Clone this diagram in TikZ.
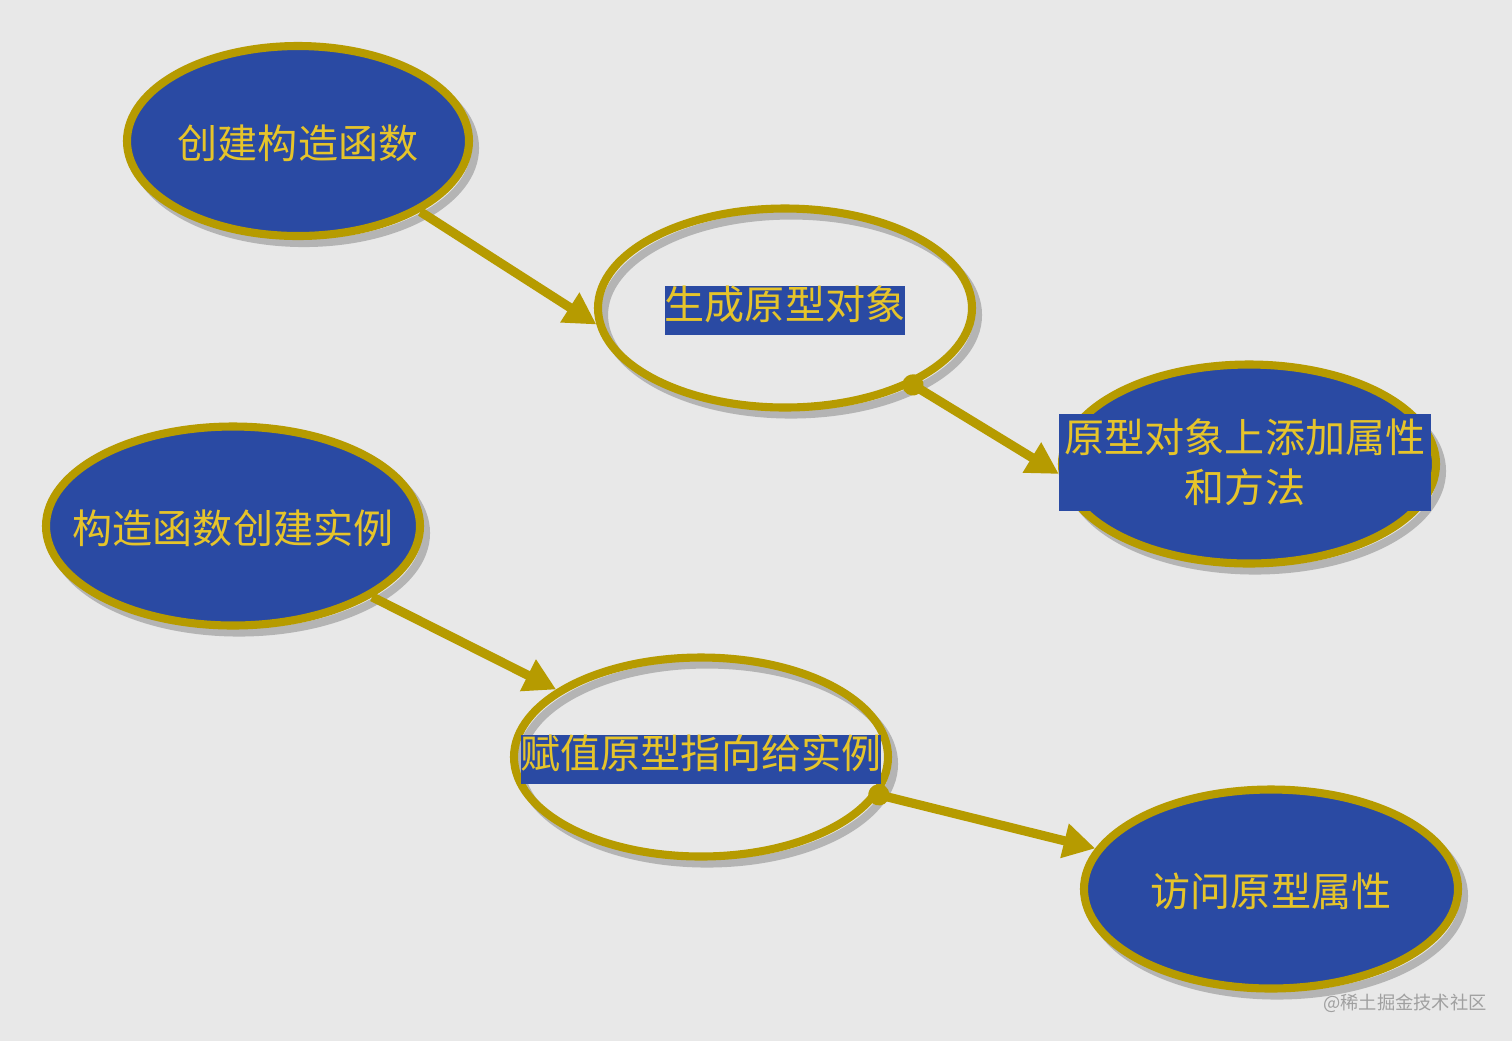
\documentclass[tikz,border=0pt]{standalone}
\usepackage{fontspec}
\setmainfont{Noto Sans CJK SC}
\usetikzlibrary{positioning,arrows.meta,shapes.geometric}

\definecolor{bggray}{HTML}{E8E8E8}
\definecolor{nodeblue}{HTML}{2A4AA3}
\definecolor{ringgold}{HTML}{B69B00}
\definecolor{labelgold}{HTML}{E6C42A}
\definecolor{shadowgray}{HTML}{B4B4B4}
\definecolor{markgray}{HTML}{A0A0A0}

\newcommand\hilite[1]{{\fboxsep=0pt\colorbox{nodeblue}{\strut #1}}}

\begin{document}
\begin{tikzpicture}[
  >=Stealth,
  stage/.style={ellipse, draw=ringgold, line width=2.3pt, inner sep=0pt,
    minimum width=3.74cm, minimum height=1.99cm,
    preaction={draw=shadowgray, line width=2.3pt,
      transform canvas={shift={(0.06,-0.07)}}}},
  filled/.style={stage, fill=nodeblue},
  hollow/.style={stage},
  tag/.style={text=labelgold, inner sep=0pt, yshift=-0.6pt,
    font=\fontsize{11.4pt}{14pt}\selectfont},
  labelbox/.style={rectangle, fill=nodeblue, text=labelgold, inner sep=0pt,
    minimum width=3.72cm, minimum height=0.97cm, align=center,
    font=\fontsize{11.4pt}{14.2pt}\selectfont},
  flow/.style={-{Triangle[length=9pt,width=9.5pt]}, draw=ringgold, line width=2.6pt},
  dotflow/.style={flow, {Circle[length=6pt]}-{Triangle[length=9pt,width=9.5pt]},
    shorten <=-3pt}
]

% Background and page size
\path[use as bounding box, fill=bggray] (0,0) rectangle (15.12,-10.41);

% Upper chain: constructor and its prototype
\node[filled, minimum width=3.42cm, minimum height=1.90cm,
  label={[tag]center:创建构造函数}] (create) at (2.98,-1.41) {};
\node[hollow, label={[tag]center:\hilite{生成原型对象}}] (proto) at (7.85,-3.08) {};
\node[filled] (addprop) at (12.49,-4.64) {};
\node[labelbox] (addtext) at (12.45,-4.625) {原型对象上添加属性\\和方法};

% Lower chain: instances
\node[filled, label={[tag]center:构造函数创建实例}] (instance) at (2.33,-5.26) {};
\node[hollow, label={[tag]center:\hilite{赋值原型指向给实例}}] (assign) at (7.01,-7.57) {};
\node[filled, label={[tag]center:访问原型属性}] (access) at (12.71,-8.89) {};

% Connectors
\draw[flow] (create.-30) -- (proto.185);
\draw[dotflow] (proto.-31) -- (addprop.183);
\draw[flow] (instance.-27) -- (assign.155);
\draw[dotflow] (assign.-12) -- (access.167);

% Watermark
\node[text=markgray, font=\fontsize{5.2pt}{6pt}\selectfont] (mark) at (14.05,-10.03) {@稀土掘金技术社区};

\end{tikzpicture}
\end{document}
